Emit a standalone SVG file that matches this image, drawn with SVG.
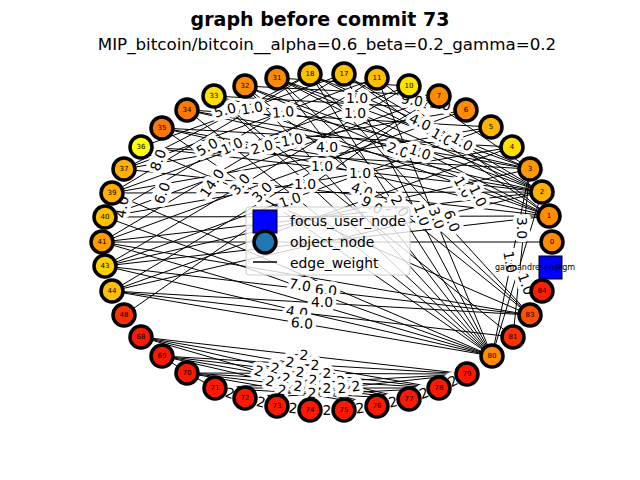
<svg xmlns="http://www.w3.org/2000/svg" width="640" height="480" viewBox="0 0 640 480">
<style>
text{font-family:"DejaVu Sans","Liberation Sans",sans-serif}
.t{font-size:19px;font-weight:bold;text-anchor:middle}
.st{font-size:16.7px;text-anchor:middle}
#edges line{stroke:#000;stroke-width:1}
.el{font-size:13.9px;text-anchor:middle;dominant-baseline:central;stroke:#fff;stroke-width:8;stroke-linejoin:round;paint-order:stroke;fill:#000}
.n circle{stroke:#000;stroke-width:3.5}
.n text{font-size:7px;text-anchor:middle;dominant-baseline:central}
.lg{font-size:13.9px}
</style>
<text class="t" x="320" y="26">graph before commit 73</text>
<text class="st" x="327" y="50">MIP_bitcoin/bitcoin__alpha=0.6_beta=0.2_gamma=0.2</text>
<g id="edges">
<line x1="277" y1="78" x2="542" y2="192"/>
<line x1="277" y1="78" x2="530" y2="169"/>
<line x1="245" y1="86" x2="549" y2="216"/>
<line x1="245" y1="86" x2="542" y2="192"/>
<line x1="214" y1="96" x2="549" y2="216"/>
<line x1="214" y1="96" x2="530" y2="169"/>
<line x1="187" y1="110" x2="542" y2="192"/>
<line x1="162" y1="128" x2="549" y2="216"/>
<line x1="141" y1="147" x2="542" y2="192"/>
<line x1="124" y1="169" x2="549" y2="216"/>
<line x1="112" y1="193" x2="542" y2="192"/>
<line x1="105" y1="217" x2="549" y2="216"/>
<line x1="102" y1="242" x2="542" y2="192"/>
<line x1="102" y1="242" x2="552" y2="242"/>
<line x1="105" y1="266" x2="549" y2="216"/>
<line x1="105" y1="266" x2="530" y2="169"/>
<line x1="112" y1="291" x2="542" y2="192"/>
<line x1="112" y1="291" x2="512" y2="147"/>
<line x1="124" y1="315" x2="439" y2="96"/>
<line x1="310" y1="74" x2="124" y2="169"/>
<line x1="310" y1="74" x2="112" y2="193"/>
<line x1="344" y1="74" x2="105" y2="217"/>
<line x1="344" y1="74" x2="141" y2="147"/>
<line x1="377" y1="78" x2="102" y2="242"/>
<line x1="377" y1="78" x2="124" y2="169"/>
<line x1="409" y1="86" x2="105" y2="266"/>
<line x1="409" y1="86" x2="112" y2="193"/>
<line x1="439" y1="96" x2="112" y2="291"/>
<line x1="439" y1="96" x2="105" y2="217"/>
<line x1="466" y1="110" x2="102" y2="242"/>
<line x1="491" y1="127" x2="105" y2="266"/>
<line x1="512" y1="147" x2="105" y2="217"/>
<line x1="310" y1="74" x2="530" y2="169"/>
<line x1="344" y1="74" x2="542" y2="192"/>
<line x1="377" y1="78" x2="549" y2="216"/>
<line x1="409" y1="86" x2="530" y2="169"/>
<line x1="277" y1="78" x2="549" y2="216"/>
<line x1="277" y1="78" x2="409" y2="86"/>
<line x1="245" y1="86" x2="439" y2="96"/>
<line x1="214" y1="96" x2="466" y2="110"/>
<line x1="187" y1="110" x2="491" y2="127"/>
<line x1="162" y1="128" x2="512" y2="147"/>
<line x1="141" y1="147" x2="530" y2="169"/>
<line x1="310" y1="74" x2="542" y2="192"/>
<line x1="344" y1="74" x2="549" y2="216"/>
<line x1="187" y1="110" x2="530" y2="169"/>
<line x1="162" y1="128" x2="542" y2="192"/>
<line x1="466" y1="110" x2="124" y2="169"/>
<line x1="491" y1="127" x2="112" y2="193"/>
<line x1="492" y1="356" x2="310" y2="74"/>
<line x1="492" y1="356" x2="277" y2="78"/>
<line x1="492" y1="356" x2="245" y2="86"/>
<line x1="492" y1="356" x2="214" y2="96"/>
<line x1="492" y1="356" x2="187" y2="110"/>
<line x1="492" y1="356" x2="162" y2="128"/>
<line x1="492" y1="356" x2="344" y2="74"/>
<line x1="492" y1="356" x2="377" y2="78"/>
<line x1="492" y1="356" x2="112" y2="291"/>
<line x1="492" y1="356" x2="105" y2="266"/>
<line x1="492" y1="356" x2="102" y2="242"/>
<line x1="492" y1="356" x2="105" y2="217"/>
<line x1="492" y1="356" x2="112" y2="193"/>
<line x1="492" y1="356" x2="542" y2="192"/>
<line x1="492" y1="356" x2="530" y2="169"/>
<line x1="530" y1="315" x2="112" y2="291"/>
<line x1="530" y1="315" x2="105" y2="266"/>
<line x1="530" y1="315" x2="102" y2="242"/>
<line x1="530" y1="315" x2="277" y2="78"/>
<line x1="530" y1="315" x2="245" y2="86"/>
<line x1="530" y1="315" x2="310" y2="74"/>
<line x1="530" y1="315" x2="141" y2="147"/>
<line x1="513" y1="337" x2="530" y2="169"/>
<line x1="513" y1="337" x2="214" y2="96"/>
<line x1="513" y1="337" x2="112" y2="291"/>
<line x1="141" y1="337" x2="467" y2="374"/>
<line x1="141" y1="337" x2="439" y2="388"/>
<line x1="141" y1="337" x2="409" y2="399"/>
<line x1="141" y1="337" x2="377" y2="406"/>
<line x1="162" y1="356" x2="467" y2="374"/>
<line x1="162" y1="356" x2="439" y2="388"/>
<line x1="162" y1="356" x2="409" y2="399"/>
<line x1="162" y1="356" x2="377" y2="406"/>
<line x1="187" y1="373" x2="467" y2="374"/>
<line x1="187" y1="373" x2="439" y2="388"/>
<line x1="187" y1="373" x2="409" y2="399"/>
<line x1="187" y1="373" x2="377" y2="406"/>
<line x1="215" y1="388" x2="467" y2="374"/>
<line x1="215" y1="388" x2="439" y2="388"/>
<line x1="215" y1="388" x2="409" y2="399"/>
<line x1="245" y1="398" x2="467" y2="374"/>
<line x1="245" y1="398" x2="439" y2="388"/>
<line x1="162" y1="356" x2="187" y2="373"/>
<line x1="187" y1="373" x2="215" y2="388"/>
<line x1="215" y1="388" x2="245" y2="398"/>
<line x1="245" y1="398" x2="277" y2="406"/>
<line x1="277" y1="406" x2="310" y2="410"/>
<line x1="310" y1="410" x2="344" y2="410"/>
<line x1="344" y1="410" x2="377" y2="406"/>
<line x1="377" y1="406" x2="409" y2="399"/>
<line x1="409" y1="399" x2="439" y2="388"/>
<line x1="439" y1="388" x2="467" y2="374"/>
</g>
<g id="edge-labels">
<text class="el" transform="translate(225,110) rotate(-15)">5.0</text>
<text class="el" transform="translate(252,108) rotate(-10)">1.0</text>
<text class="el" transform="translate(283,112) rotate(-5)">1.0</text>
<text class="el" transform="translate(207,147) rotate(-30)">5.0</text>
<text class="el" transform="translate(232,146) rotate(-25)">1.0</text>
<text class="el" transform="translate(262,147) rotate(-15)">2.0</text>
<text class="el" transform="translate(292,140) rotate(-10)">1.0</text>
<text class="el" transform="translate(327,147)">4.0</text>
<text class="el" transform="translate(158,160) rotate(-70)">8.0</text>
<text class="el" transform="translate(162,193) rotate(-70)">6.0</text>
<text class="el" transform="translate(212,183) rotate(-55)">14.0</text>
<text class="el" transform="translate(240,184) rotate(-50)">3.0</text>
<text class="el" transform="translate(262,192) rotate(-45)">3.0</text>
<text class="el" transform="translate(290,200) rotate(-20)">1.0</text>
<text class="el" transform="translate(322,166)">1.0</text>
<text class="el" transform="translate(305,184)">1.0</text>
<text class="el" transform="translate(357,98)">1.0</text>
<text class="el" transform="translate(355,113)">1.0</text>
<text class="el" transform="translate(412,100) rotate(10)">9.0</text>
<text class="el" transform="translate(440,104) rotate(10)">1.0</text>
<text class="el" transform="translate(420,122) rotate(25)">4.0</text>
<text class="el" transform="translate(442,137) rotate(30)">1.0</text>
<text class="el" transform="translate(462,142) rotate(30)">1.0</text>
<text class="el" transform="translate(398,150) rotate(20)">2.0</text>
<text class="el" transform="translate(420,152) rotate(20)">1.0</text>
<text class="el" transform="translate(360,173)">1.0</text>
<text class="el" transform="translate(362,190) rotate(20)">4.0</text>
<text class="el" transform="translate(372,205) rotate(30)">9.0</text>
<text class="el" transform="translate(400,206) rotate(60)">2.0</text>
<text class="el" transform="translate(422,215) rotate(70)">1.0</text>
<text class="el" transform="translate(437,218) rotate(70)">3.0</text>
<text class="el" transform="translate(452,221) rotate(70)">6.0</text>
<text class="el" transform="translate(463,187) rotate(60)">1.0</text>
<text class="el" transform="translate(478,196) rotate(65)">1.0</text>
<text class="el" transform="translate(522,228) rotate(90)">3.0</text>
<text class="el" transform="translate(510,262) rotate(80)">1.0</text>
<text class="el" transform="translate(526,284) rotate(70)">1.0</text>
<text class="el" transform="translate(122,207) rotate(-80)">4.0</text>
<text class="el" transform="translate(300,285) rotate(10)">7.0</text>
<text class="el" transform="translate(326,290) rotate(5)">6.0</text>
<text class="el" transform="translate(297,312) rotate(10)">4.0</text>
<text class="el" transform="translate(322,302)">4.0</text>
<text class="el" transform="translate(302,323) rotate(5)">6.0</text>
<text class="el" transform="translate(304,355) rotate(6)">2</text>
<text class="el" transform="translate(290,362) rotate(10)">2</text>
<text class="el" transform="translate(315,365) rotate(3)">2</text>
<text class="el" transform="translate(275,368) rotate(13)">2</text>
<text class="el" transform="translate(300,372) rotate(7)">2</text>
<text class="el" transform="translate(327,373)">2</text>
<text class="el" transform="translate(259,371) rotate(16)">2</text>
<text class="el" transform="translate(286,378) rotate(10)">2</text>
<text class="el" transform="translate(313,380) rotate(3)">2</text>
<text class="el" transform="translate(341,381) rotate(-3)">2</text>
<text class="el" transform="translate(270,381) rotate(12)">2</text>
<text class="el" transform="translate(298,386) rotate(7)">2</text>
<text class="el" transform="translate(327,388)">2</text>
<text class="el" transform="translate(356,386) rotate(-6)">2</text>
<text class="el" transform="translate(282,390) rotate(9)">2</text>
<text class="el" transform="translate(312,393) rotate(3)">2</text>
<text class="el" transform="translate(342,388) rotate(-3)">2</text>
<text class="el" transform="translate(230,393) rotate(18)">2</text>
<text class="el" transform="translate(261,402) rotate(14)">2</text>
<text class="el" transform="translate(293,408) rotate(7)">2</text>
<text class="el" transform="translate(327,410)">2</text>
<text class="el" transform="translate(360,408) rotate(-7)">2</text>
<text class="el" transform="translate(393,402) rotate(-13)">2</text>
<text class="el" transform="translate(424,393) rotate(-20)">2</text>
<text class="el" transform="translate(453,381) rotate(-27)">2</text>
</g>
<g id="nodes">
<g id="n18" class="n"><circle cx="310" cy="74" r="11" fill="#ffc000"/><text x="310" y="74">18</text></g>
<g id="n17" class="n"><circle cx="344" cy="74" r="11" fill="#ffc000"/><text x="344" y="74">17</text></g>
<g id="n11" class="n"><circle cx="377" cy="78" r="11" fill="#ffc000"/><text x="377" y="78">11</text></g>
<g id="n10" class="n"><circle cx="409" cy="86" r="11" fill="#ffe400"/><text x="409" y="86">10</text></g>
<g id="n7" class="n"><circle cx="439" cy="96" r="11" fill="#ff8c00"/><text x="439" y="96">7</text></g>
<g id="n6" class="n"><circle cx="466" cy="110" r="11" fill="#ff8c00"/><text x="466" y="110">6</text></g>
<g id="n5" class="n"><circle cx="491" cy="127" r="11" fill="#ffb400"/><text x="491" y="127">5</text></g>
<g id="n4" class="n"><circle cx="512" cy="147" r="11" fill="#ffe000"/><text x="512" y="147">4</text></g>
<g id="n3" class="n"><circle cx="530" cy="169" r="11" fill="#ff9800"/><text x="530" y="169">3</text></g>
<g id="n2" class="n"><circle cx="542" cy="192" r="11" fill="#ffb000"/><text x="542" y="192">2</text></g>
<g id="n1" class="n"><circle cx="549" cy="216" r="11" fill="#ff8c00"/><text x="549" y="216">1</text></g>
<g id="n0" class="n"><circle cx="552" cy="242" r="11" fill="#ff8c00"/><text x="552" y="242">0</text></g>
<g id="focus"><rect x="539" y="256" width="23" height="23" fill="#0000ff" stroke="#000" stroke-width="1"/><text x="535" y="267" font-size="8" text-anchor="middle" dominant-baseline="central">gavinandresen@gm</text></g>
<g id="n84" class="n"><circle cx="542" cy="291" r="11" fill="#ff1c00"/><text x="542" y="291">84</text></g>
<g id="n83" class="n"><circle cx="530" cy="315" r="11" fill="#ff5000"/><text x="530" y="315">83</text></g>
<g id="n81" class="n"><circle cx="513" cy="337" r="11" fill="#ff3000"/><text x="513" y="337">81</text></g>
<g id="n80" class="n"><circle cx="492" cy="356" r="11" fill="#ff8c00"/><text x="492" y="356">80</text></g>
<g id="n79" class="n"><circle cx="467" cy="374" r="11" fill="#ff1800"/><text x="467" y="374">79</text></g>
<g id="n78" class="n"><circle cx="439" cy="388" r="11" fill="#ff1800"/><text x="439" y="388">78</text></g>
<g id="n77" class="n"><circle cx="409" cy="399" r="11" fill="#ff1800"/><text x="409" y="399">77</text></g>
<g id="n76" class="n"><circle cx="377" cy="406" r="11" fill="#ff1800"/><text x="377" y="406">76</text></g>
<g id="n75" class="n"><circle cx="344" cy="410" r="11" fill="#ff1800"/><text x="344" y="410">75</text></g>
<g id="n74" class="n"><circle cx="310" cy="410" r="11" fill="#ff1800"/><text x="310" y="410">74</text></g>
<g id="n73" class="n"><circle cx="277" cy="406" r="11" fill="#ff1800"/><text x="277" y="406">73</text></g>
<g id="n72" class="n"><circle cx="245" cy="398" r="11" fill="#ff1800"/><text x="245" y="398">72</text></g>
<g id="n71" class="n"><circle cx="215" cy="388" r="11" fill="#ff1800"/><text x="215" y="388">71</text></g>
<g id="n70" class="n"><circle cx="187" cy="373" r="11" fill="#ff1800"/><text x="187" y="373">70</text></g>
<g id="n69" class="n"><circle cx="162" cy="356" r="11" fill="#ff1800"/><text x="162" y="356">69</text></g>
<g id="n68" class="n"><circle cx="141" cy="337" r="11" fill="#ff1800"/><text x="141" y="337">68</text></g>
<g id="n48" class="n"><circle cx="124" cy="315" r="11" fill="#ff3000"/><text x="124" y="315">48</text></g>
<g id="n44" class="n"><circle cx="112" cy="291" r="11" fill="#ffc000"/><text x="112" y="291">44</text></g>
<g id="n43" class="n"><circle cx="105" cy="266" r="11" fill="#ffd000"/><text x="105" y="266">43</text></g>
<g id="n41" class="n"><circle cx="102" cy="242" r="11" fill="#ff9c00"/><text x="102" y="242">41</text></g>
<g id="n40" class="n"><circle cx="105" cy="217" r="11" fill="#ffc000"/><text x="105" y="217">40</text></g>
<g id="n39" class="n"><circle cx="112" cy="193" r="11" fill="#ffb000"/><text x="112" y="193">39</text></g>
<g id="n37" class="n"><circle cx="124" cy="169" r="11" fill="#ffb000"/><text x="124" y="169">37</text></g>
<g id="n36" class="n"><circle cx="141" cy="147" r="11" fill="#ffff00"/><text x="141" y="147">36</text></g>
<g id="n35" class="n"><circle cx="162" cy="128" r="11" fill="#ff7800"/><text x="162" y="128">35</text></g>
<g id="n34" class="n"><circle cx="187" cy="110" r="11" fill="#ff7800"/><text x="187" y="110">34</text></g>
<g id="n33" class="n"><circle cx="214" cy="96" r="11" fill="#ffe000"/><text x="214" y="96">33</text></g>
<g id="n32" class="n"><circle cx="245" cy="86" r="11" fill="#ff8c00"/><text x="245" y="86">32</text></g>
<g id="n31" class="n"><circle cx="277" cy="78" r="11" fill="#ff8c00"/><text x="277" y="78">31</text></g>
</g>
<g id="legend">
<rect x="246" y="207" width="164" height="68" rx="3" fill="#fff" fill-opacity="0.8" stroke="#cccccc"/>
<rect x="253" y="210" width="24" height="23" fill="#0000ff" stroke="#000" stroke-width="1"/>
<circle cx="265" cy="242" r="11" fill="#1f77b4" stroke="#000" stroke-width="3.5"/>
<line x1="253" y1="262" x2="277" y2="262" stroke="#000" stroke-width="1.5"/>
<text class="lg" x="290" y="226">focus_user_node</text>
<text class="lg" x="290" y="247">object_node</text>
<text class="lg" x="290" y="268">edge_weight</text>
</g>
</svg>
